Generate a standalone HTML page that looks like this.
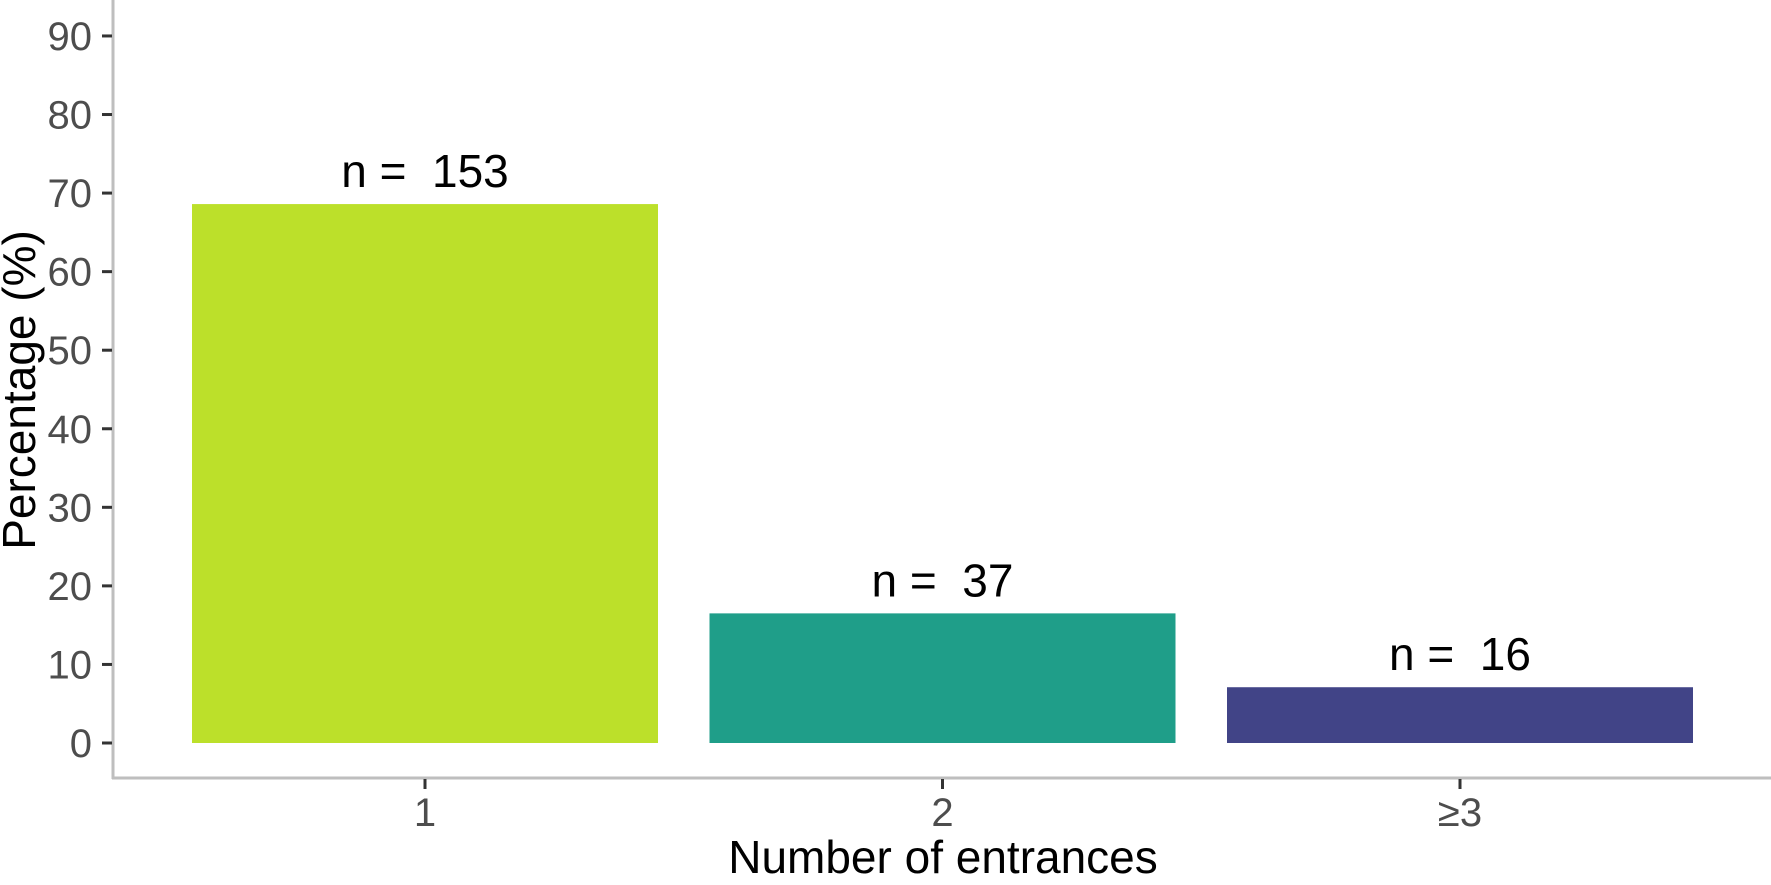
<!DOCTYPE html>
<html><head><meta charset="utf-8">
<style>
html,body{margin:0;padding:0;background:#fff;}
svg{display:block;font-family:"Liberation Sans",Arial,sans-serif;}
</style></head>
<body>
<svg id="chart" width="1771" height="885" viewBox="0 0 1771 885" xmlns="http://www.w3.org/2000/svg"></svg>
<script>
const categories = ["1", "2", "\u22653"];
const values = [68.6, 16.5, 7.1];
const counts = ["153", "37", "16"];
const colors = ["#BCE02A", "#1F9E89", "#414487"];
const yTicks = [0, 10, 20, 30, 40, 50, 60, 70, 80, 90];

const svg = document.getElementById('chart');
const NS = 'http://www.w3.org/2000/svg';
const y0 = 743, pxPer = 7.856;
const yScale = v => y0 - v * pxPer;
const x0 = 425, band = 517.5, barW = 466;
const xScale = i => x0 + i * band;

function mk(tag, attrs, parent) {
  const e = document.createElementNS(NS, tag);
  for (const k in attrs) e.setAttribute(k, attrs[k]);
  (parent || svg).appendChild(e);
  return e;
}

values.forEach((v, i) => {
  const r = mk('rect', {x: xScale(i) - barW / 2, y: yScale(v), width: barW, height: yScale(0) - yScale(v), fill: colors[i]});
  
  
  const t = mk('text', {x: xScale(i), y: yScale(v) - 17, 'text-anchor': 'middle', 'font-size': 46, fill: '#000'});
  t.textContent = 'n =\u00a0 ' + counts[i];
  
  
});

const ax = mk('line', {x1: 113, y1: 0, x2: 113, y2: 779, stroke: '#bebebe', 'stroke-width': 3});


const bx = mk('line', {x1: 112, y1: 778, x2: 1771, y2: 778, stroke: '#bebebe', 'stroke-width': 3});



yTicks.forEach(v => {
  const l = mk('line', {x1: 102, y1: yScale(v), x2: 112, y2: yScale(v), stroke: '#333', 'stroke-width': 3});
  
  
  const t = mk('text', {x: 92, y: yScale(v) + 14, 'text-anchor': 'end', 'font-size': 40, fill: '#4d4d4d'});
  t.textContent = v;
  
  
});

categories.forEach((c, i) => {
  const l = mk('line', {x1: xScale(i), y1: 779, x2: xScale(i), y2: 789, stroke: '#333', 'stroke-width': 3});
  
  
  const t = mk('text', {x: xScale(i), y: 826, 'text-anchor': 'middle', 'font-size': 40, fill: '#4d4d4d'});
  t.textContent = c;
  
  
});

const xt = mk('text', {x: 943, y: 873, 'text-anchor': 'middle', 'font-size': 46, fill: '#000'});
xt.textContent = 'Number of entrances';


const yt = mk('text', {x: 0, y: 0, 'text-anchor': 'middle', 'font-size': 46, fill: '#000', transform: 'translate(35,390) rotate(-90)'});
yt.textContent = 'Percentage (%)';


</script>
</body></html>
